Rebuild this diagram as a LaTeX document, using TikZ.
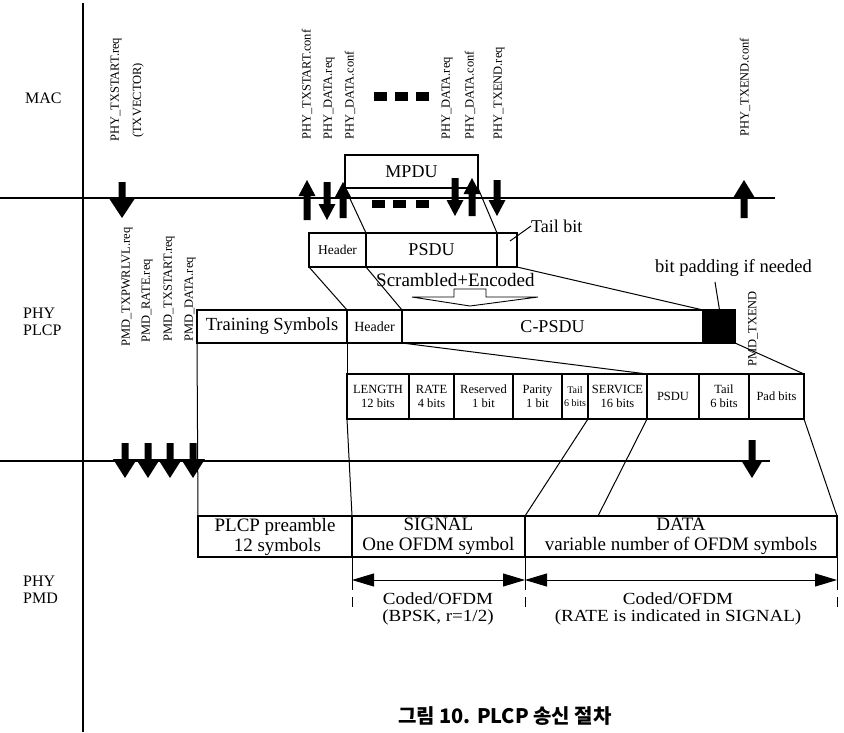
\documentclass[tikz,border=0pt]{standalone}
\usepackage{fontspec}
\setmainfont{Liberation Serif}
\newfontfamily\krfont{Noto Sans CJK KR}
\usetikzlibrary{arrows.meta}
\newcommand\fsz[1]{\fontsize{#1}{#1}\selectfont}
% fat down arrow: x, top, tip, half head width, head length
\newcommand\fatdn[5]{\fill (#1-3.5,#2) -- (#1-3.5,#3-#5) -- (#1-#4,#3-#5) -- (#1,#3) -- (#1+#4,#3-#5) -- (#1+3.5,#3-#5) -- (#1+3.5,#2) -- cycle;}
% fat up arrow: x, tip, bottom, half head width, head length
\newcommand\fatup[5]{\fill (#1,#2) -- (#1+#4,#2+#5) -- (#1+3.5,#2+#5) -- (#1+3.5,#3) -- (#1-3.5,#3) -- (#1-3.5,#2+#5) -- (#1-#4,#2+#5) -- cycle;}
\begin{document}
\begin{tikzpicture}[x=1pt,y=-1pt,
  box/.style={draw, line width=1.1pt, inner sep=0pt, outer sep=0pt, anchor=north west, align=center},
  fld/.style={box, minimum height=45pt, font=\fontsize{12.5}{14}\selectfont},
  pmdbox/.style={box, minimum height=41pt, font=\fontsize{19}{20}\selectfont},
  rlbl/.style={font=\fsz{12.5}, rotate=90, anchor=west, inner sep=0pt},
  layer/.style={font=\fontsize{16}{17}\selectfont, align=left, anchor=west, inner sep=0pt},
  conn/.style={line width=1pt},
  axis/.style={line width=1.5pt},
  dbl/.style={{Triangle[length=22pt,width=13pt]}-{Triangle[length=22pt,width=13pt]}, line width=1pt},
  tick/.style={line width=0.8pt},
  coded/.style={font=\fontsize{17}{17.5}\selectfont, align=center, xscale=1.12, inner sep=0pt}]
\useasboundingbox (0,0) rectangle (844,732);

% layer lines
\draw[axis] (83,3) -- (83,732);
\draw[axis] (0,198) -- (775,198);
\draw[axis] (0,461) -- (770,461);

% layer labels
\node[layer] (mac) at (25,98) {MAC};
\node[layer] (plcp) at (23,322) {PHY\\PLCP};
\node[layer] (pmd) at (23,590) {PHY\\PMD};

% MAC primitives
\node[rlbl] (l1) at (116,142) {PHY\_TXSTART.req};
\node[rlbl] (l2) at (138,138) {(TXVECTOR)};
\node[rlbl] (l3) at (307,140) {PHY\_TXSTART.conf};
\node[rlbl] (l4) at (329,140) {PHY\_DATA.req};
\node[rlbl] (l5) at (350,140) {PHY\_DATA.conf};
\node[rlbl] (l6) at (447,140) {PHY\_DATA.req};
\node[rlbl] (l7) at (470,140) {PHY\_DATA.conf};
\node[rlbl] (l8) at (499,140) {PHY\_TXEND.req};
\node[rlbl] (l9) at (745,137) {PHY\_TXEND.conf};

% dots
\fill (374,92) rectangle (387,101);
\fill (395,92) rectangle (408,101);
\fill (416,92) rectangle (429,101);
\fill (372,200) rectangle (385,208);
\fill (393,200) rectangle (406,208);
\fill (416,200) rectangle (429,208);

% MAC arrows
\fatdn{122}{182}{218}{12.5}{19}
\fatup{307}{180}{220}{8.5}{16}
\fatdn{327}{182}{220}{8.5}{16}
\fatup{343}{182}{218}{8.5}{16}
\fatdn{455}{178}{216}{8.5}{16}
\fatup{472}{178}{216}{8.5}{16}
\fatdn{497}{180}{216}{8.5}{16}
\fatup{744}{180}{218}{11}{18}

% MPDU
\node[box, minimum width=133pt, minimum height=33pt, font=\fsz{18}] (mpdu) at (345,155) {MPDU};

% header / PSDU / tail
\node[box, minimum width=57pt, minimum height=34pt, font=\fsz{13.5}] (hdr1) at (309,233) {Header};
\node[box, minimum width=131pt, minimum height=34pt, font=\fsz{18}] (psdu) at (366,233) {PSDU};
\node[box, minimum width=20pt, minimum height=34pt] (tail) at (497,233) {};
\node[font=\fsz{18}, anchor=west, inner sep=0pt] (taillbl) at (531,226) {Tail bit};
\coordinate (tailpt) at (510,241);
\draw[conn] (tailpt) -- (taillbl.west);

\node[font=\fsz{19}, anchor=west, inner sep=0pt] (scr) at (376,280) {Scrambled+Encoded};
\draw[line width=0.9pt, fill=white] (454,289) -- (486,289) -- (486,297) -- (538,297) -- (470,306) -- (412,297) -- (454,297) -- cycle;

\node[font=\fsz{18.5}, anchor=west, inner sep=0pt] (padlbl) at (655,268) {bit padding if needed};

% PLCP row
\node[box, minimum width=150pt, minimum height=33pt, font=\fsz{18.5}] (train) at (197,310) {Training Symbols};
\node[box, minimum width=55pt, minimum height=33pt, font=\fsz{14}] (hdr2) at (347,310) {Header};
\node[box, minimum width=301pt, minimum height=33pt, font=\fsz{18}] (cpsdu) at (402,310) {C-PSDU};
\node[box, fill=black, minimum width=32pt, minimum height=33pt] (pad) at (703,310) {};
\coordinate (padpt) at (715,282);
\draw[conn] (padpt) -- (720,313);

\draw[conn] (mpdu.south west) -- (psdu.north west);
\draw[conn] (mpdu.south east) -- (psdu.north east);
\draw[conn] (hdr1.south west) -- (hdr2.north west);
\draw[conn] (psdu.south west) -- (cpsdu.north west);
\draw[conn] (tail.south east) -- (cpsdu.north east);

% PMD_TXEND
\node[rlbl] (l10) at (753,367) {PMD\_TXEND};

% fields
\node[fld, minimum width=62pt] (len) at (347,374) {LENGTH\\12 bits};
\node[fld, minimum width=45pt] (rate) at (409,374) {RATE\\4 bits};
\node[fld, minimum width=59pt] (resv) at (454,374) {Reserved\\1 bit};
\node[fld, minimum width=49pt] (par) at (513,374) {Parity\\1 bit};
\node[fld, minimum width=26pt, font=\fontsize{10}{13}\selectfont] (tl1) at (562,374) {Tail\\6 bits};
\node[fld, minimum width=59pt] (serv) at (588,374) {SERVICE\\16 bits};
\node[fld, minimum width=52pt] (psdu2) at (647,374) {PSDU};
\node[fld, minimum width=50pt] (tl2) at (699,374) {Tail\\6 bits};
\node[fld, minimum width=55pt] (padb) at (749,374) {Pad bits};

\draw[conn] (hdr2.south west) -- (len.north west);
\draw[conn] (hdr2.south east) -- (serv.north east);
\draw[conn] (pad.south east) -- (padb.north east);

% PMD primitives
\node[rlbl] (p1) at (127,347) {PMD\_TXPWRLVL.req};
\node[rlbl] (p2) at (147,343) {PMD\_RATE.req};
\node[rlbl] (p3) at (169,342) {PMD\_TXSTART.req};
\node[rlbl] (p4) at (190,342) {PMD\_DATA.req};

\fatdn{125}{443}{478}{12}{19}
\fatdn{148}{443}{478}{12}{19}
\fatdn{170}{443}{478}{12}{19}
\fatdn{193}{443}{478}{12}{19}
\fatdn{752}{440}{478}{11}{18}

% PMD row
\node[pmdbox, minimum width=154pt] (pre) at (198,516) {PLCP preamble\\\ 12 symbols};
\node[pmdbox, minimum width=173pt] (sig) at (352,516) {SIGNAL\\One OFDM symbol};
\node[pmdbox, minimum width=312pt] (data) at (525,516) {DATA\\variable number of OFDM symbols};

\coordinate (dmid) at (598,516);
\draw[conn] (train.south west) -- (pre.north west);
\draw[conn] (len.south west) -- (sig.north west);
\draw[conn] (serv.south west) -- (data.north west);
\draw[conn] (serv.south east) -- (dmid);
\draw[conn] (padb.south east) -- (data.north east);

% durations
\coordinate (a1) at (352,580);
\coordinate (a2) at (525,580);
\coordinate (a3) at (837,580);
\draw[dbl] (a1) -- (a2);
\draw[dbl] (a2) -- (a3);
\foreach \xx in {352,525,837}{
  \draw[tick] (\xx,557) -- (\xx,590);
  \draw[tick] (\xx,597) -- (\xx,607);
}
\node[coded] (c1) at (438,609) {Coded/OFDM\\(BPSK, r=1/2)};
\node[coded] (c2) at (678,609) {Coded/OFDM\\(RATE is indicated in SIGNAL)};

% caption
\node[font=\krfont\bfseries\fsz{20}] (cap) at (505,716) {그림 10. PLCP 송신 절차};
\end{tikzpicture}
\end{document}
